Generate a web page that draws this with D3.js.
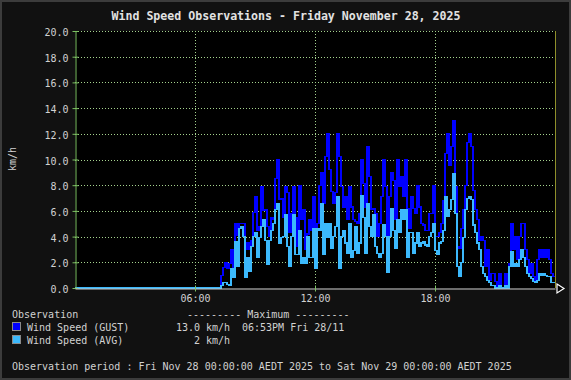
<!DOCTYPE html>
<html>
<head>
<meta charset="utf-8">
<script src="https://cdn.jsdelivr.net/npm/d3@7"></script>
<style>
  html, body { margin: 0; padding: 0; background: #111111; }
  svg { display: block; }
  text { font-family: "DejaVu Sans Mono", monospace; }
</style>
</head>
<body>
<svg id="chart" width="571" height="380"></svg>
<script>
// ---- data ----
const chartTitle = "Wind Speed Observations - Friday November 28, 2025";
const yUnit = "km/h";
const yTicks = [0, 2, 4, 6, 8, 10, 12, 14, 16, 18, 20];
const xTickMinutes = [360, 720, 1080];
const xTickLabels = ["06:00", "12:00", "18:00"];
const firstSample = "07:18";   // samples every 6 minutes from here
const sampleStepMin = 6;
const seriesNames = ["Wind Speed (GUST)", "Wind Speed (AVG)"];
const maxValues = ["13.0", "2"];
const maxTimes = ["06:53PM Fri 28/11", ""];
const periodText = "Observation period : Fri Nov 28 00:00:00 AEDT 2025 to Sat Nov 29 00:00:00 AEDT 2025";

const gust = [
  1.0,1.6,2.0,1.5,1.9,3.0,1.1,5.0,4.1,5.0,5.0,5.0,3.0,3.5,3.0,3.7,5.9,7.1,4.5,4.8,
  7.9,6.0,6.1,4.8,4.0,5.5,5.3,8.5,10.0,6.9,7.0,5.5,7.9,7.4,4.3,5.8,7.9,
  5.5,3.2,8.0,5.3,6.1,3.0,4.2,5.3,4.5,7.1,4.5,5.0,8.0,9.0,6.6,10.2,12.0,9.2,7.5,6.6,
  7.4,12.0,10.2,7.9,6.3,7.1,5.3,7.9,6.3,5.3,5.2,5.0,5.8,10.0,8.1,6.3,11.0,8.7,6.1,6.2,5.8,4.0,5.0,
  7.1,10.0,7.9,3.0,7.1,9.0,8.4,5.3,10.0,7.9,8.7,7.1,10.0,6.2,4.6,7.1,6.2,5.8,8.0,6.3,
  5.0,4.9,4.5,4.5,5.8,5.8,8.0,4.0,4.0,4.3,5.0,6.8,10.5,12.0,9.5,11.0,13.0,7.9,3.2,3.1,4.6,6.1,8.0,
  11.3,12.0,11.0,7.6,6.1,5.3,3.7,4.0,3.7,1.7,3.0,0.6,1.1,1.1,0.5,0,1.1,0,0,1.1,0.3,
  1.9,5.0,3.0,4.0,2.2,4.0,5.0,5.0,3.0,2.2,1.1,1.9,0.9,0.6,2.2,3.0,2.4,3.0,2.4,3.0,2.2,1.1,0.9,0.9
];
const avg = [
  0.2,0.4,0.4,0.3,0.2,1.5,0.8,3.6,1.7,4.6,4.8,4.0,0.8,2.4,1.3,3.2,4.0,4.3,2.4,3.9,
  4.8,5.3,3.7,1.8,3.7,4.5,5.0,6.1,6.6,3.5,3.9,4.0,5.7,3.2,1.7,4.0,5.7,
  2.6,2.6,4.5,1.9,2.4,1.9,4.0,2.4,2.4,4.6,1.5,4.6,4.5,6.6,2.6,5.0,3.9,5.0,3.1,4.0,
  4.8,7.1,1.5,4.0,4.5,3.5,2.7,5.0,2.4,2.95,4.8,2.7,3.5,7.2,5.5,2.7,6.6,4.8,4.0,5.7,3.2,2.7,2.4,
  2.7,4.9,4.0,1.2,4.0,6.2,4.5,3.1,5.3,4.3,6.1,5.3,6.1,2.4,4.3,4.3,2.7,3.5,4.3,3.2,
  3.5,3.6,3.35,3.2,4.0,4.3,5.0,2.95,2.6,3.5,3.6,4.5,7.1,5.6,6.1,6.9,8.9,5.8,1.7,0.9,2.0,3.9,6.1,
  7.0,7.1,6.9,4.9,4.3,3.5,3.0,1.7,1.1,0.9,0.6,0.4,0.2,0.2,0,0,0.2,0,0,0.2,0,
  1.7,2.8,1.7,1.9,1.7,2.2,3.0,2.4,1.7,1.1,0.9,0.75,0.5,0.4,0.6,1.1,1.0,1.1,1.0,0.9,0.9,0.4,0.4,0.4
];

// ---- layout ----
const W = 571, H = 380;
const plot = { left: 75, right: 555, top: 31, bottom: 288 };
const colors = { gust: "#0000ff", avg: "#3cb9fc", grid: "#a5d28e", axis: "#7cc062",
                 rightEdge: "#8f8f2a", text: "#d2d2d2", bg: "#111111", frame: "#3c3c3c" };

const svg = d3.select("#chart");
svg.append("rect").attr("x", 1).attr("y", 1).attr("width", W - 2).attr("height", H - 2)
  .attr("fill", colors.bg).attr("stroke", colors.frame).attr("stroke-width", 2);

const x = d3.scaleLinear().domain([0, 1440]).range([plot.left, plot.right]);
const y = d3.scaleLinear().domain([0, 20]).range([plot.bottom, plot.top]);

svg.append("rect").attr("x", plot.left).attr("y", plot.top)
  .attr("width", plot.right - plot.left).attr("height", plot.bottom - plot.top).attr("fill", "#000");

// title
svg.append("text").attr("x", W / 2 + 0.5).attr("y", 20).attr("text-anchor", "middle")
  .attr("fill", "#e2e2e2").attr("font-size", "11.6px").attr("font-weight", "bold").text(chartTitle);

// grid
const grid = svg.append("g").attr("shape-rendering", "crispEdges");
grid.selectAll("line.h").data(yTicks.filter(d => d > 0)).join("line")
  .attr("x1", plot.left).attr("x2", plot.right)
  .attr("y1", d => Math.round(y(d)) + 0.5).attr("y2", d => Math.round(y(d)) + 0.5)
  .attr("stroke", colors.grid).attr("stroke-dasharray", "1,2");
grid.selectAll("line.v").data(xTickMinutes).join("line")
  .attr("x1", d => Math.round(x(d)) + 0.5).attr("x2", d => Math.round(x(d)) + 0.5)
  .attr("y1", plot.top).attr("y2", plot.bottom)
  .attr("stroke", colors.grid).attr("stroke-dasharray", "1,2");

// series
const t0 = +firstSample.slice(0, 2) * 60 + +firstSample.slice(3);
function pts(vals) {
  const p = [[0, 0]];
  vals.forEach((v, i) => p.push([t0 + i * sampleStepMin, v]));
  return p;
}
const line = d3.line().x(d => x(d[0])).y(d => y(d[1])).curve(d3.curveStepAfter);
const lines = svg.append("g").attr("shape-rendering", "crispEdges");
lines.append("path").datum(pts(gust)).attr("d", line).attr("fill", "none")
  .attr("stroke", colors.gust).attr("stroke-width", 1.1);
lines.append("path").datum(pts(avg)).attr("d", line).attr("fill", "none")
  .attr("stroke", colors.avg).attr("stroke-width", 1.1);

// right edge
svg.append("line").attr("x1", plot.right + 0.5).attr("x2", plot.right + 0.5)
  .attr("y1", plot.top).attr("y2", plot.bottom).attr("stroke", colors.rightEdge);

// y axis
const yAxis = svg.append("g").attr("transform", `translate(${plot.left + 0.5},0)`)
  .call(d3.axisLeft(y).tickValues(yTicks).tickFormat(d3.format(".1f")).tickSizeInner(3).tickSizeOuter(0).tickPadding(4));
yAxis.select(".domain").attr("stroke", colors.axis);
yAxis.selectAll(".tick line").attr("stroke", colors.axis).attr("x2", 3).attr("x1", -3);
yAxis.selectAll(".tick text").attr("fill", colors.text).attr("font-size", "10px")
  .attr("font-family", "DejaVu Sans Mono, monospace").attr("dy", "0.45em");

// x axis
const xAxis = svg.append("g").attr("transform", `translate(0,${plot.bottom + 0.5})`)
  .call(d3.axisBottom(x).tickValues(xTickMinutes).tickFormat((d, i) => xTickLabels[i])
    .tickSizeInner(3).tickSizeOuter(0).tickPadding(3));
xAxis.select(".domain").attr("stroke", "#c8c8c8");
xAxis.selectAll(".tick line").attr("stroke", colors.axis).attr("y1", -3).attr("y2", 3);
xAxis.selectAll(".tick text").attr("fill", colors.text).attr("font-size", "10px")
  .attr("font-family", "DejaVu Sans Mono, monospace");

// arrow at end of x axis
svg.append("path")
  .attr("d", `M${plot.right + 2},${plot.bottom - 4} L${plot.right + 9},${plot.bottom + 0.5} L${plot.right + 2},${plot.bottom + 5} Z`)
  .attr("fill", "#000").attr("stroke", "#ffffff").attr("stroke-width", 1.2);

// y unit label
svg.append("text").attr("transform", "translate(16,159) rotate(-90)").attr("text-anchor", "middle")
  .attr("fill", colors.text).attr("font-size", "10px").text(yUnit);

// legend
const lg = svg.append("g").attr("fill", colors.text).attr("font-size", "10px");
lg.append("text").attr("x", 12).attr("y", 318).text("Observation");
lg.append("text").attr("x", 187).attr("y", 318).attr("xml:space", "preserve").text("--------- Maximum ---------");
const rows = [0, 1];
const rowY = [331, 344];
const swatch = [colors.gust, colors.avg];
rows.forEach(i => {
  lg.append("rect").attr("x", 12.5).attr("y", rowY[i] - 8.5).attr("width", 8).attr("height", 8)
    .attr("fill", swatch[i]).attr("stroke", "#8a8a8a").attr("stroke-width", 1);
  lg.append("text").attr("x", 27).attr("y", rowY[i]).text(seriesNames[i]);
  lg.append("text").attr("x", 200).attr("y", rowY[i]).attr("text-anchor", "end").text(maxValues[i]);
  lg.append("text").attr("x", 206).attr("y", rowY[i]).text(yUnit);
  if (maxTimes[i]) lg.append("text").attr("x", 242).attr("y", rowY[i]).text(maxTimes[i]);
});
lg.append("text").attr("x", 12).attr("y", 370).text(periodText);
</script>
</body>
</html>
